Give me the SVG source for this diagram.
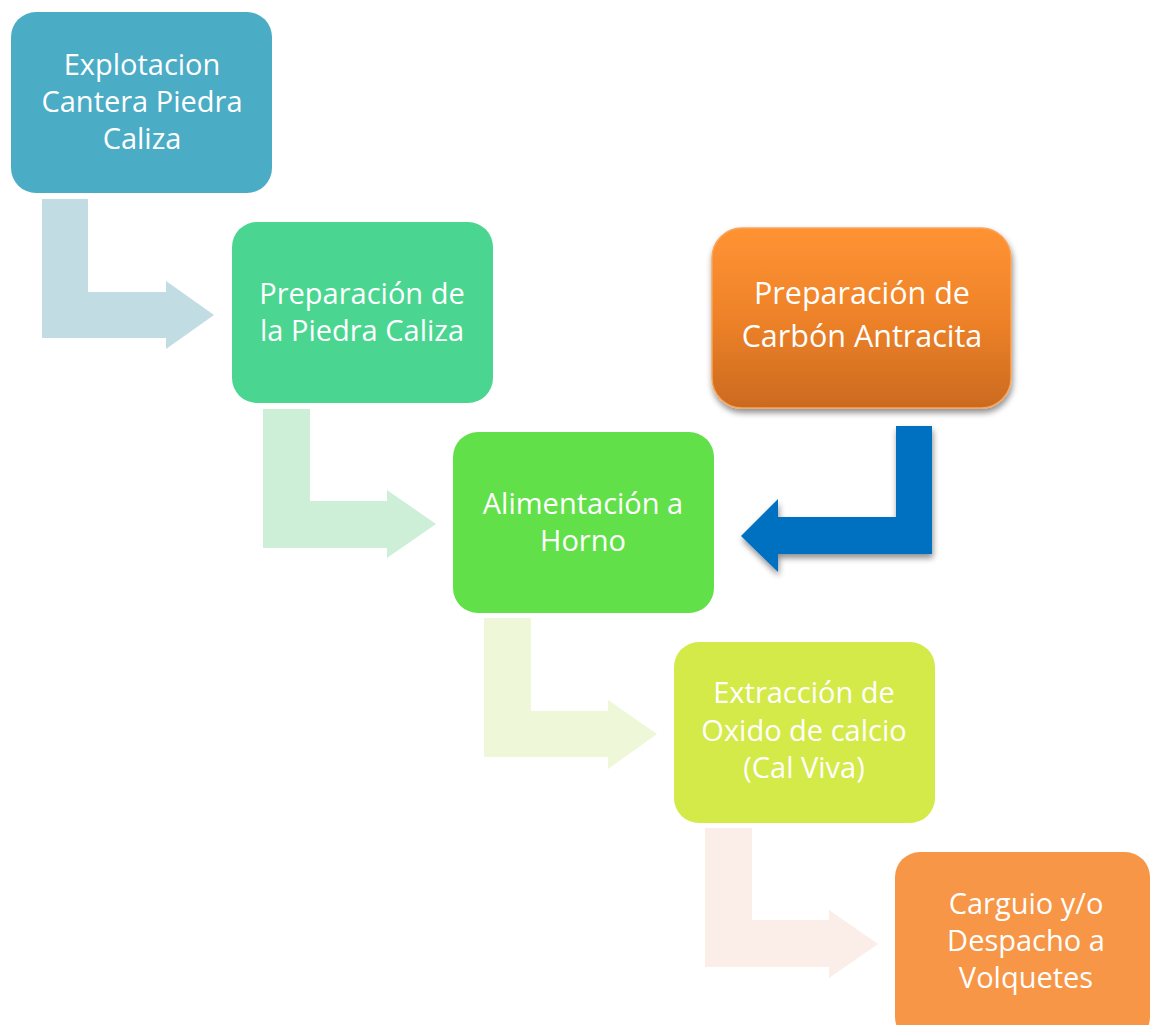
<svg xmlns="http://www.w3.org/2000/svg" width="1150" height="1025" viewBox="0 0 1150 1025">
  <defs>
    <linearGradient id="gOrange" x1="0" y1="0" x2="0" y2="1">
      <stop offset="0" stop-color="#FF9333"/>
      <stop offset="0.5" stop-color="#EE8229"/>
      <stop offset="1" stop-color="#CB6A1F"/>
    </linearGradient>
    <filter id="shadow" x="-10%" y="-10%" width="125%" height="130%">
      <feGaussianBlur in="SourceAlpha" stdDeviation="3"/>
      <feOffset dx="1" dy="4" result="b"/>
      <feComponentTransfer><feFuncA type="linear" slope="0.45"/></feComponentTransfer>
      <feMerge><feMergeNode/><feMergeNode in="SourceGraphic"/></feMerge>
    </filter>
    <style>
      .lbl { font-family: "Open Sans", "Liberation Sans", sans-serif; font-size: 29px; fill: #FFFFFF; text-anchor: middle; }
      .big { font-size: 30.5px; }
    </style>
  </defs>
  <rect width="1150" height="1025" fill="#FFFFFF"/>

  <g id="connectors">
    <polygon fill="#C2DCE4" points="42,199 88,199 88,292 166,292 166,281 214,315 166,349 166,338 42,338"/>
    <polygon fill="#CDEFD8" points="263,409 310,409 310,501 387,501 387,490 436,524 387,558 387,548 263,548"/>
    <polygon fill="#EEF7D8" points="484,618 531,618 531,711 608,711 608,700 657,734 608,769 608,757 484,757"/>
    <polygon fill="#FBEDE8" points="705,828 752,828 752,920 829,920 829,910 878,944 829,978 829,967 705,967"/>
    <polygon fill="#0070C0" filter="url(#shadow)" points="896,426 932,426 932,554 778,554 778,572 741,536 778,499 778,517 896,517"/>
  </g>

  <g id="node1">
    <rect x="11" y="12" width="261" height="181" rx="25" fill="#4BACC6"/>
    <text class="lbl" x="142" y="75">Explotacion</text>
    <text class="lbl" x="142" y="112">Cantera Piedra</text>
    <text class="lbl" x="142" y="149">Caliza</text>
  </g>

  <g id="node2">
    <rect x="232" y="222" width="261" height="181" rx="25" fill="#4AD691"/>
    <text class="lbl" x="362" y="304">Preparación de</text>
    <text class="lbl" x="362" y="341">la Piedra Caliza</text>
  </g>

  <g id="node3">
    <rect x="453" y="432" width="261" height="181" rx="25" fill="#62E04A"/>
    <text class="lbl" x="583" y="514">Alimentación a</text>
    <text class="lbl" x="583" y="551">Horno</text>
  </g>

  <g id="node4">
    <rect x="674" y="642" width="261" height="181" rx="25" fill="#D4EA48"/>
    <text class="lbl" x="804" y="703">Extracción de</text>
    <text class="lbl" x="804" y="741">Oxido de calcio</text>
    <text class="lbl" x="804" y="778">(Cal Viva)</text>
  </g>

  <g id="node5">
    <rect x="895" y="852" width="255" height="190" rx="25" fill="#F79646"/>
    <text class="lbl" x="1026" y="914">Carguio y/o</text>
    <text class="lbl" x="1026" y="951">Despacho a</text>
    <text class="lbl" x="1026" y="988">Volquetes</text>
  </g>

  <g id="node6">
    <rect x="712" y="228" width="299" height="180" rx="30" fill="url(#gOrange)" stroke="#F9A55A" stroke-width="1.5" filter="url(#shadow)"/>
    <text class="lbl big" x="862" y="304">Preparación de</text>
    <text class="lbl big" x="862" y="347">Carbón Antracita</text>
  </g>
</svg>
